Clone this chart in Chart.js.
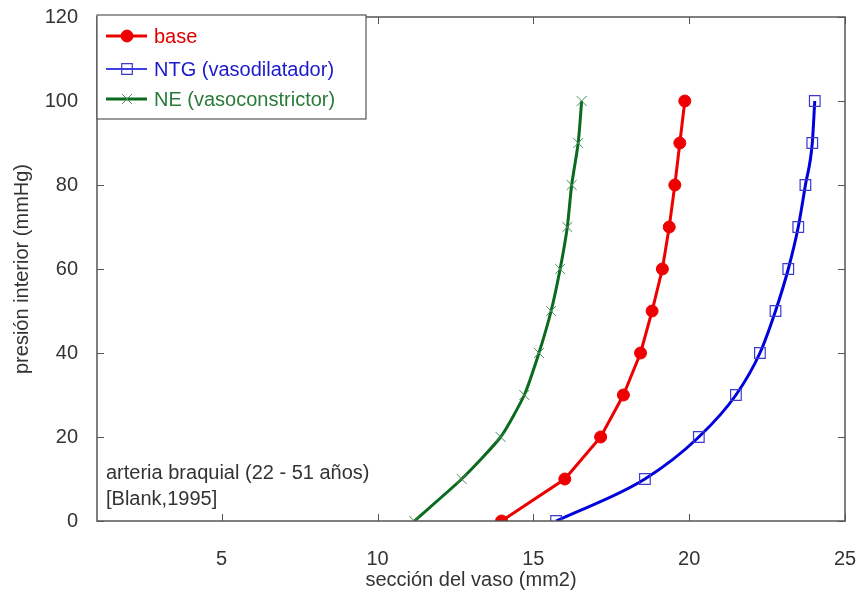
<!DOCTYPE html>
<html>
<head>
<meta charset="utf-8">
<script src="https://cdn.jsdelivr.net/npm/chart.js@4/dist/chart.umd.min.js"></script>
<style>
  html, body { margin: 0; padding: 0; background: #fff; }
  #wrap { width: 857px; height: 595px; }
</style>
</head>
<body>
<div id="wrap"><canvas id="Chart1" width="857" height="595"></canvas></div>
<script>
// presión interior (mmHg)
var presion = [0, 10, 20, 30, 40, 50, 60, 70, 80, 90, 100];
// sección del vaso (mm2)
var baseSec = [13.98, 16.01, 17.16, 17.89, 18.44, 18.81, 19.14, 19.36, 19.54, 19.70, 19.86];
var ntgSec = [15.73, 18.58, 20.31, 21.50, 22.27, 22.77, 23.18, 23.50, 23.73, 23.95, 24.03];
var neSec = [11.18, 12.70, 13.95, 14.71, 15.18, 15.57, 15.86, 16.09, 16.23, 16.44, 16.55];
var seriesNames = ['base', 'NTG (vasodilatador)', 'NE (vasoconstrictor)'];
var xTicks = [5, 10, 15, 20, 25];
var yTicks = [0, 20, 40, 60, 80, 100, 120];
var noteLines = ['arteria braquial (22 - 51 años)', '[Blank,1995]'];

var FONT = '"Liberation Sans", Arial, sans-serif';
var textCol = '#333333';

function pts(xs) {
  return xs.map(function(v, i) { return { x: v, y: presion[i] }; });
}

// frame, inward ticks, legend box and note
var framePlugin = {
  id: 'frame',
  afterDraw: function(chart) {
    var c = chart.ctx, a = chart.chartArea;
    var xs = chart.scales.x, ys = chart.scales.y;
    c.save();
    c.strokeStyle = '#555555';
    c.lineWidth = 1.5;
    c.strokeRect(a.left, a.top, a.right - a.left, a.bottom - a.top);
    c.lineWidth = 1;
    xTicks.forEach(function(t) {
      var px = Math.round(xs.getPixelForValue(t)) + 0.5;
      c.beginPath();
      c.moveTo(px, a.bottom); c.lineTo(px, a.bottom - 7);
      c.moveTo(px, a.top); c.lineTo(px, a.top + 7);
      c.stroke();
    });
    yTicks.forEach(function(t) {
      var py = Math.round(ys.getPixelForValue(t)) + 0.5;
      c.beginPath();
      c.moveTo(a.left, py); c.lineTo(a.left + 7, py);
      c.moveTo(a.right, py); c.lineTo(a.right - 7, py);
      c.stroke();
    });

    // legend
    var bx = a.left, by = a.top - 2, bw = 269, bh = 104;
    c.fillStyle = '#ffffff';
    c.fillRect(bx, by, bw, bh);
    c.strokeStyle = '#555555';
    c.lineWidth = 1.2;
    c.strokeRect(bx, by, bw, bh);
    var rows = [36, 69, 99];
    c.font = '20px ' + FONT;
    c.textBaseline = 'middle';
    chart.data.datasets.forEach(function(ds, i) {
      var y = rows[i];
      c.strokeStyle = ds.borderColor;
      c.lineWidth = ds.legendLine;
      c.beginPath();
      c.moveTo(106, y); c.lineTo(147, y);
      c.stroke();
      c.strokeStyle = ds.pointBorderColor;
      c.fillStyle = ds.pointBackgroundColor;
      c.lineWidth = ds.pointBorderWidth;
      Chart.helpers.drawPoint(c, {
        pointStyle: ds.pointStyle, radius: ds.pointRadius, rotation: 0, borderWidth: ds.pointBorderWidth
      }, 127, y);
      c.fillStyle = ds.textColor;
      c.fillText(ds.label, 154, y + 1);
    });

    // note
    c.fillStyle = textCol;
    c.font = '20px ' + FONT;
    c.fillText(noteLines[0], 106, 473);
    c.fillText(noteLines[1], 106, 499);
    c.restore();
  }
};

var ctx1 = document.getElementById('Chart1').getContext('2d');
var myChart1 = new Chart(ctx1, {
  type: 'line',
  data: {
    datasets: [{
      label: seriesNames[0],
      data: pts(baseSec),
      borderColor: '#ee0000',
      borderWidth: 3,
      legendLine: 3,
      textColor: '#e00000',
      tension: 0,
      pointStyle: 'circle',
      pointRadius: 6,
      pointBackgroundColor: '#ee0000',
      pointBorderColor: '#ee0000',
      pointBorderWidth: 1
    }, {
      label: seriesNames[1],
      data: pts(ntgSec),
      borderColor: '#0000dd',
      borderWidth: 3,
      legendLine: 1.5,
      textColor: '#1a1acc',
      cubicInterpolationMode: 'monotone',
      pointStyle: 'rect',
      pointRadius: 7.5,
      pointBackgroundColor: 'rgba(0,0,0,0)',
      pointBorderColor: '#3a3ad0',
      pointBorderWidth: 1.2
    }, {
      label: seriesNames[2],
      data: pts(neSec),
      borderColor: '#0a6a1e',
      borderWidth: 3,
      legendLine: 3,
      textColor: '#2a7a3a',
      tension: 0.2,
      pointStyle: 'crossRot',
      pointRadius: 7,
      pointBackgroundColor: 'rgba(0,0,0,0)',
      pointBorderColor: '#4a8a5a',
      pointBorderWidth: 1
    }]
  },
  options: {
    responsive: false,
    animation: false,
    layout: { padding: { top: 17, right: 12, left: 0, bottom: 0 } },
    plugins: {
      legend: { display: false },
      tooltip: { enabled: false }
    },
    scales: {
      x: {
        type: 'linear',
        min: 1,
        max: 25,
        afterBuildTicks: function(s) { s.ticks = xTicks.map(function(v) { return { value: v }; }); },
        afterFit: function(s) { s.height = 74; s.paddingLeft = 0; s.paddingRight = 0; },
        grid: { display: false, drawTicks: false },
        border: { display: false },
        ticks: { color: textCol, font: { family: FONT, size: 20 }, padding: 26, maxRotation: 0 },
        title: {
          display: true, text: 'sección del vaso (mm2)', color: textCol,
          font: { family: FONT, size: 20 }, padding: { top: 0, bottom: 3 }
        }
      },
      y: {
        type: 'linear',
        min: 0,
        max: 120,
        afterBuildTicks: function(s) { s.ticks = yTicks.map(function(v) { return { value: v }; }); },
        afterFit: function(s) { s.width = 97; s.paddingTop = 0; s.paddingBottom = 0; },
        grid: { display: false, drawTicks: false },
        border: { display: false },
        ticks: { color: textCol, font: { family: FONT, size: 20 }, padding: 19 },
        title: {
          display: true, text: 'presión interior (mmHg)', color: textCol,
          font: { family: FONT, size: 20 }, padding: { top: 10, bottom: 0 }
        }
      }
    }
  },
  plugins: [framePlugin]
});
</script>
</body>
</html>
